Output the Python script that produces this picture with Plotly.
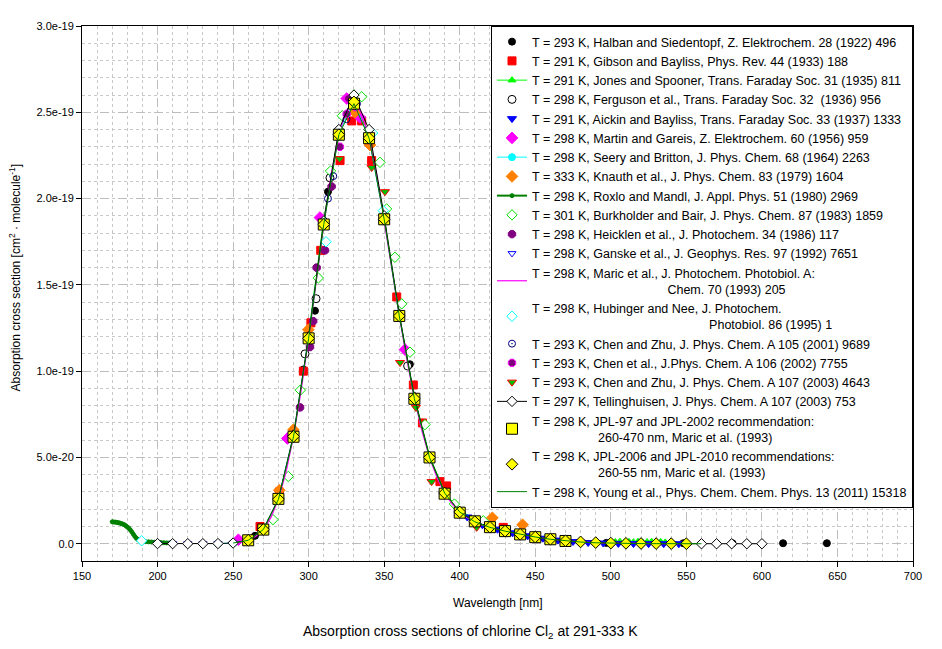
import plotly.graph_objects as go

# cross sections, in units of 1e-20 cm^2/molecule
halban_wl = [264.5, 296.5, 304.2, 312.8, 367.0, 497.0, 548.0, 580.5, 614.0, 643.0]
halban_s = [0.46, 10.1, 13.5, 20.4, 10.4, 0.05, 0.03, 0.03, 0.03, 0.03]

gibson_wl = [267.8, 280.6, 296.5, 301.5, 308.0, 320.8, 328.5, 335.1, 341.7, 358.3,
             369.3, 375.3, 386.9, 391.3, 428.8]
gibson_s = [1.0, 3.0, 10.0, 12.8, 17.0, 22.2, 24.5, 24.5, 22.2, 14.3,
            9.2, 7.0, 3.6, 3.35, 0.95]

jones_wl = [300, 310, 320, 330, 340, 350, 360, 370, 380, 390, 400, 420, 440, 460, 480,
            500, 503, 506, 509, 512, 515, 518, 521, 524, 527, 530, 533, 536]
jones_s = [12.2, 18.8, 23.9, 26.1, 23.6, 18.9, 13.3, 8.5, 5.1, 3.0, 1.9, 1.0, 0.6, 0.3, 0.13,
           0.10, 0.10, 0.12, 0.08, 0.11, 0.09, 0.12, 0.08, 0.10, 0.12, 0.09, 0.11, 0.08]

ferguson_wl = [297.6, 304.9, 314.1, 365.5]
ferguson_s = [11.0, 14.2, 21.2, 10.3]

aickin_wl = [405, 410, 415, 420, 425, 430, 435, 440, 445, 450, 455, 460, 465, 470, 475,
             480, 485, 490, 495, 500, 505, 510, 515, 520, 525, 530, 535, 540, 545]
aickin_s = [1.55, 1.27, 1.10, 0.95, 0.84, 0.73, 0.63, 0.55, 0.46, 0.39, 0.32, 0.26, 0.21, 0.16, 0.13,
            0.10, 0.07, 0.05, 0.04, 0.03, 0.02, 0.015, 0.01, 0.007, 0.005, 0.003, 0.002, 0.0015, 0.001]

martin_wl = [253.5, 285.9, 307.5, 325.2, 334.0, 363.8]
martin_s = [0.23, 6.1, 18.9, 25.8, 24.7, 11.25]

seery_wl = [240, 250, 260, 270, 280, 290, 300, 310, 320, 330, 340, 350, 360, 370, 380, 390, 400]
seery_s = [0.01, 0.04, 0.20, 0.83, 2.6, 6.3, 12.0, 18.6, 23.8, 25.6, 23.5, 18.8, 13.2, 8.4, 5.0, 2.9, 1.8]

knauth_wl = [280.6, 289.9, 299.8, 330.7, 340.6, 421.6, 441.6]
knauth_s = [3.1, 6.6, 12.4, 25.0, 23.1, 1.5, 1.1]

roxlo_wl = [170, 171, 172, 173, 174, 175, 176, 177, 178, 179, 180, 181, 182, 183, 184, 185,
            186, 187, 188, 189, 190, 192, 194, 196, 198, 200, 202, 204, 206, 208, 210]
roxlo_s = [1.27, 1.26, 1.25, 1.24, 1.22, 1.20, 1.17, 1.14, 1.10, 1.04, 0.97, 0.90, 0.80, 0.68, 0.55, 0.42,
           0.32, 0.24, 0.19, 0.16, 0.14, 0.12, 0.11, 0.10, 0.09, 0.08, 0.07, 0.06, 0.05, 0.05, 0.04]

burkholder_wl = [276.4, 286.5, 294.5, 306.4, 314.5, 322.3, 335.1, 347.2, 351.6, 357.1,
                 361.6, 367.1, 377.0, 396.5, 415.6]
burkholder_s = [1.4, 3.9, 8.9, 15.4, 21.6, 24.8, 25.9, 22.1, 19.4, 16.6,
                13.9, 11.1, 6.9, 2.3, 1.33]

heicklen_wl = [294.3, 300.9, 303.0, 305.3, 310.8, 315.2]
heicklen_s = [7.9, 11.4, 12.9, 16.0, 17.0, 20.7]

ganske_wl = [200, 210, 220, 230, 240, 250, 260]
ganske_s = [0.01, 0.01, 0.01, 0.01, 0.02, 0.04, 0.2]

maric_wl = [250, 255, 260, 265, 270, 275, 280, 285, 290, 295, 300, 305, 310, 315, 320, 325,
            330, 335, 340, 345, 350, 355, 360, 365, 370, 375, 380, 385, 390, 395, 400, 405,
            410, 415, 420, 425, 430, 435, 440, 445, 450, 455, 460, 465, 470, 475, 480, 485,
            490, 495, 500, 505, 510, 515, 520, 525, 530, 535, 540, 545, 550]
maric_s = [0.035, 0.087, 0.198, 0.419, 0.823, 1.51, 2.58, 4.13, 6.22, 8.86, 11.92, 15.23, 18.50, 21.43, 23.71, 25.12,
           25.55, 24.97, 23.51, 21.37, 18.77, 15.98, 13.22, 10.66, 8.41, 6.52, 5.00, 3.82, 2.94, 2.30, 1.84, 1.51,
           1.27, 1.10, 0.955, 0.839, 0.734, 0.636, 0.548, 0.463, 0.387, 0.318, 0.258, 0.205, 0.162, 0.125, 0.096, 0.072,
           0.053, 0.039, 0.028, 0.020, 0.014, 0.010, 0.007, 0.005, 0.003, 0.002, 0.0014, 0.001, 0.0006]

hubinger_wl = [189.5, 311.5, 342.3, 349.4]
hubinger_s = [0.17, 17.5, 23.8, 19.3]

chen01_wl = [312.8, 316.3, 325.0, 332.0]
chen01_s = [20.0, 21.3, 24.6, 25.5]

chen02_wl = [320.7, 325.2, 326.3, 331.0]
chen02_s = [23.0, 24.9, 25.8, 25.3]

chen03_wl = [320.5, 341.7, 350.5, 360.5, 371.0, 381.4, 411.2]
chen03_s = [22.3, 21.8, 20.4, 10.5, 7.9, 3.6, 0.95]

telling_wl = [200, 210, 220, 230, 240, 250, 260, 270, 280, 290, 300, 310, 320, 330, 340, 350,
              360, 370, 380, 390, 400, 410, 420, 430, 440, 450, 460, 470, 480, 490, 500, 510,
              520, 530, 540, 550, 560, 570, 580, 590, 600]
telling_s = [0.01, 0.005, 0.003, 0.005, 0.01, 0.04, 0.2, 0.83, 2.6, 6.3, 12.0, 18.7, 24.0, 26.0, 24.0, 19.0,
             13.3, 8.5, 5.05, 2.95, 1.85, 1.28, 0.96, 0.74, 0.55, 0.39, 0.26, 0.16, 0.10, 0.055, 0.03, 0.015,
             0.008, 0.004, 0.002, 0.001, 0.0006, 0.0004, 0.0003, 0.0002, 0.0001]

jpl97_wl = [260, 270, 280, 290, 300, 310, 320, 330, 340, 350, 360, 370, 380, 390, 400,
            410, 420, 430, 440, 450, 460, 470]
jpl97_s = [0.20, 0.82, 2.6, 6.2, 11.9, 18.5, 23.7, 25.5, 23.5, 18.8, 13.2, 8.4, 5.0, 2.9, 1.8,
           1.3, 0.96, 0.73, 0.54, 0.38, 0.26, 0.16]

jpl06_wl = [260, 270, 280, 290, 300, 310, 320, 330, 340, 350, 360, 370, 380, 390, 400,
            410, 420, 430, 440, 450, 460, 470, 480, 490, 500, 510, 520, 530, 540, 550]
jpl06_s = [0.198, 0.824, 2.58, 6.22, 11.9, 18.5, 23.7, 25.6, 23.5, 18.8, 13.2, 8.41, 5.00, 2.94, 1.84,
           1.28, 0.956, 0.732, 0.546, 0.387, 0.262, 0.170, 0.106, 0.0643, 0.0380, 0.0228, 0.0135, 0.0080, 0.0046, 0.0027]

young_wl = [250, 260, 270, 280, 290, 300, 310, 320, 330, 340, 350, 360, 370, 380, 390, 400,
            410, 420, 430, 440, 450, 460, 470, 480, 490, 500, 510, 520, 530, 540, 550, 560]
young_s = [0.04, 0.20, 0.82, 2.57, 6.2, 11.9, 18.5, 23.7, 25.5, 23.5, 18.8, 13.2, 8.4, 5.0, 2.94, 1.84,
           1.27, 0.95, 0.73, 0.55, 0.39, 0.26, 0.16, 0.10, 0.055, 0.03, 0.015, 0.008, 0.004, 0.002, 0.001, 0.0005]

x_ticks = [150, 200, 250, 300, 350, 400, 450, 500, 550, 600, 650, 700]
y_ticks = [0, 5e-20, 1e-19, 1.5e-19, 2e-19, 2.5e-19, 3e-19]
y_ticktext = ["0.0", "5.0e-20", "1.0e-19", "1.5e-19", "2.0e-19", "2.5e-19", "3.0e-19"]

sp = "\u00a0"

fig = go.Figure()


def add(wl, s, name, mode="markers", symbol="circle", color="black", size=7,
        mline=None, lcolor=None, lwidth=1):
    marker = dict(symbol=symbol, color=color, size=size,
                  line=dict(color=mline if mline else color, width=1))
    fig.add_trace(go.Scatter(
        x=wl, y=[v * 1e-20 for v in s], name=name, mode=mode,
        marker=marker, line=dict(color=lcolor if lcolor else color, width=lwidth)))


add(halban_wl, halban_s, "T = 293 K, Halban and Siedentopf, Z. Elektrochem. 28 (1922) 496",
    symbol="circle", color="black", size=7)
add(gibson_wl, gibson_s, "T = 291 K, Gibson and Bayliss, Phys. Rev. 44 (1933) 188",
    symbol="square", color="#ff0000", size=8)
add(jones_wl, jones_s, "T = 291 K, Jones and Spooner, Trans. Faraday Soc. 31 (1935) 811",
    mode="lines+markers", symbol="triangle-up", color="#00ff00", size=7)
add(ferguson_wl, ferguson_s, "T = 298 K, Ferguson et al., Trans. Faraday Soc. 32" + sp + " (1936) 956",
    symbol="circle", color="white", mline="black", size=8)
add(aickin_wl, aickin_s, "T = 291 K, Aickin and Bayliss, Trans. Faraday Soc. 33 (1937) 1333",
    symbol="triangle-down", color="#0000ff", size=8)
add(martin_wl, martin_s, "T = 298 K, Martin and Gareis, Z. Elektrochem. 60 (1956) 959",
    symbol="diamond", color="#ff00ff", size=9)
add(seery_wl, seery_s, "T = 298 K, Seery and Britton, J. Phys. Chem. 68 (1964) 2263",
    mode="lines+markers", symbol="circle", color="#00ffff", size=7)
add(knauth_wl, knauth_s, "T = 333 K, Knauth et al., J. Phys. Chem. 83 (1979) 1604",
    symbol="diamond", color="#ff8000", size=9)
add(roxlo_wl, roxlo_s, "T = 298 K, Roxlo and Mandl, J. Appl. Phys. 51 (1980) 2969",
    mode="lines+markers", symbol="circle", color="#008000", size=4, lwidth=2)
add(burkholder_wl, burkholder_s, "T = 301 K, Burkholder and Bair, J. Phys. Chem. 87 (1983) 1859",
    symbol="diamond", color="white", mline="#00e000", size=8)
add(heicklen_wl, heicklen_s, "T = 298 K, Heicklen et al., J. Photochem. 34 (1986) 117",
    symbol="octagon", color="#800080", size=8)
add(ganske_wl, ganske_s, "T = 298 K, Ganske et al., J. Geophys. Res. 97 (1992) 7651",
    symbol="triangle-down", color="white", mline="#0000ff", size=7)
add(maric_wl, maric_s, "T = 298 K, Maric et al., J. Photochem. Photobiol. A:<br>" + sp * 39
    + "Chem. 70 (1993) 205", mode="lines", color="#ff00ff", lwidth=1.2)
add(hubinger_wl, hubinger_s, "T = 298 K, Hubinger and Nee, J. Photochem.<br>" + sp * 51
    + "Photobiol. 86 (1995) 1", symbol="diamond", color="white", mline="#00ffff", size=8)
add(chen01_wl, chen01_s, "T = 293 K, Chen and Zhu, J. Phys. Chem. A 105 (2001) 9689",
    symbol="circle-open-dot", color="#000080", size=7)
add(chen02_wl, chen02_s, "T = 293 K, Chen et al., J.Phys. Chem. A 106 (2002) 7755",
    symbol="octagon", color="#800080", mline="#ff00ff", size=8)
add(chen03_wl, chen03_s, "T = 293 K, Chen and Zhu, J. Phys. Chem. A 107 (2003) 4643",
    symbol="triangle-down", color="#00c000", mline="#ff0000", size=8)
add(telling_wl, telling_s, "T = 297 K, Tellinghuisen, J. Phys. Chem. A 107 (2003) 753",
    mode="lines+markers", symbol="diamond", color="white", mline="black", lcolor="black", size=8)
add(jpl97_wl, jpl97_s, "T = 298 K, JPL-97 and JPL-2002 recommendation:<br>" + sp * 19
    + "260-470 nm, Maric et al. (1993)", symbol="square", color="#ffff00", mline="black", size=11)
add(jpl06_wl, jpl06_s, "T = 298 K, JPL-2006 and JPL-2010 recommendations:<br>" + sp * 19
    + "260-55 nm, Maric et al. (1993)", symbol="diamond", color="#ffff00", mline="black", size=9)
add(young_wl, young_s, "T = 298 K, Young et al., Phys. Chem. Chem. Phys. 13 (2011) 15318",
    mode="lines", color="#008000", lwidth=1)

# the page body adds an 8 px offset, so the figure is 8 px smaller and margins shifted
fig.update_layout(
    width=934, height=641,
    margin=dict(l=74, r=29, t=16, b=88),
    plot_bgcolor="white", paper_bgcolor="white",
    font=dict(family="Liberation Sans, Arial, sans-serif", size=11, color="black"),
    legend=dict(x=1, y=1, xanchor="right", yanchor="top", bgcolor="white",
                bordercolor="black", borderwidth=1, font=dict(size=12.5)),
)

fig.update_xaxes(
    range=[150, 700], tickmode="array", tickvals=x_ticks,
    showline=True, linecolor="black", linewidth=1, mirror=True,
    ticks="outside", ticklen=5, tickcolor="black",
    showgrid=True, gridcolor="#bdbdbd", griddash="dash", zeroline=False,
    minor=dict(tickmode="linear", tick0=150, dtick=10, showgrid=True,
               gridcolor="#c8c8c8", griddash="dot", ticks=""),
)
fig.update_yaxes(
    range=[-1.0e-20, 3.0e-19], tickmode="array", tickvals=y_ticks, ticktext=y_ticktext,
    showline=True, linecolor="black", linewidth=1, mirror=True,
    ticks="outside", ticklen=5, tickcolor="black",
    showgrid=True, gridcolor="#bdbdbd", griddash="dash", zeroline=False,
    minor=dict(tickmode="linear", tick0=0, dtick=1e-20, showgrid=True,
               gridcolor="#c8c8c8", griddash="dot", ticks=""),
)

fig.add_annotation(text="Wavelength [nm]", xref="paper", yref="paper", x=0.5, y=-0.078,
                   showarrow=False, font=dict(size=12), yanchor="middle")
fig.add_annotation(text="Absorption cross sections of chlorine Cl<sub>2</sub> at 291-333 K",
                   xref="paper", yref="paper", x=0.468, y=-0.132,
                   showarrow=False, font=dict(size=14), yanchor="middle")
fig.add_annotation(text="Absorption cross section [cm<sup>2</sup> · molecule<sup>-1</sup>]",
                   xref="paper", yref="paper", x=-0.0806, y=0.53, textangle=-90,
                   showarrow=False, font=dict(size=12), xanchor="center", yanchor="middle")

fig.write_html("out.html")
